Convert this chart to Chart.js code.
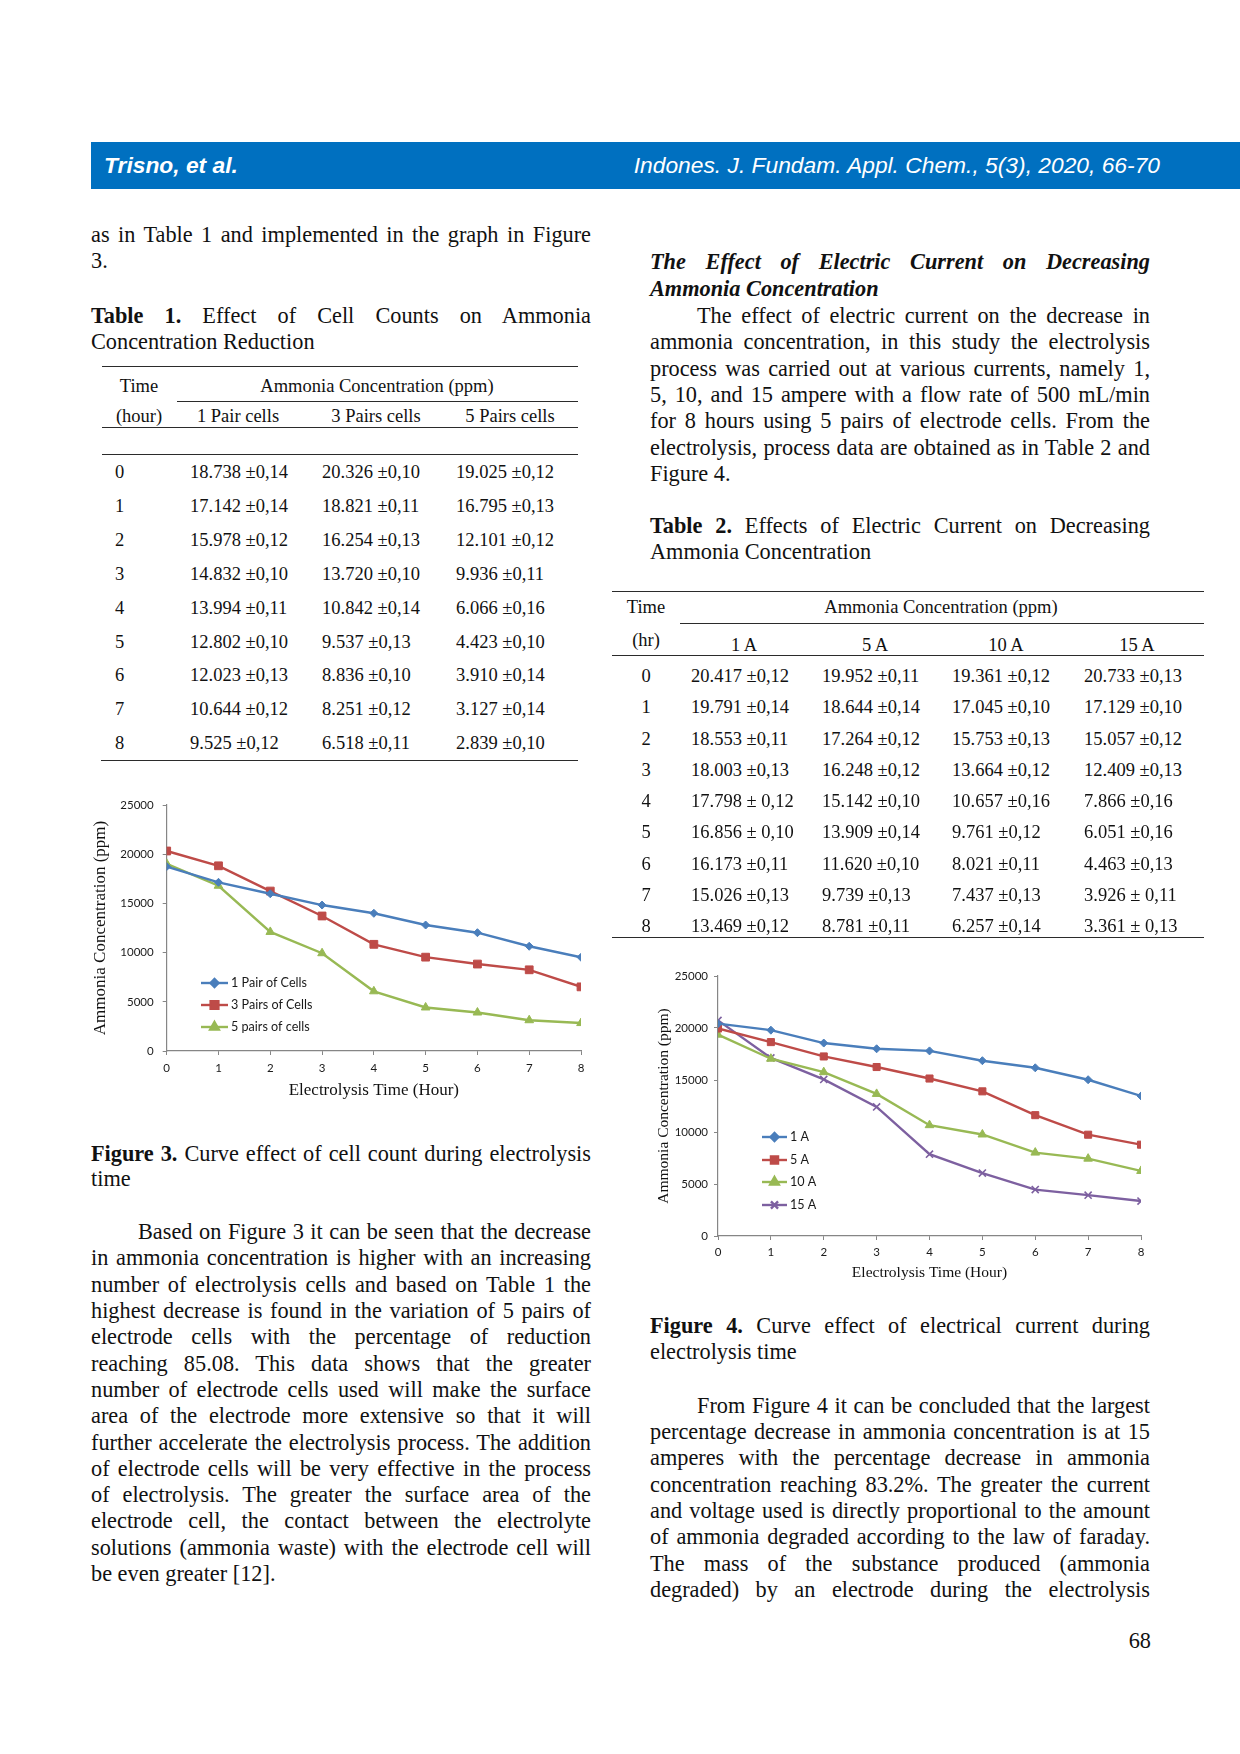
<!DOCTYPE html>
<html>
<head>
<meta charset="utf-8">
<script src="https://cdn.jsdelivr.net/npm/chart.js@4.4.1/dist/chart.umd.min.js"></script>
<style>
html, body { margin: 0; padding: 0; background: #fff; }
#page { position: relative; width: 1240px; height: 1754px; overflow: hidden; font-family: "Liberation Serif", "Times New Roman", serif; color: #111; }
.bar { position: absolute; left: 91px; top: 142px; width: 1149px; height: 47px; background: #0070c0; color: #fff; font-family: "Liberation Sans", Arial, sans-serif; font-size: 22.8px; line-height: 47px; font-style: italic; }
.bar .l { position: absolute; left: 13px; font-weight: bold; }
.bar .r { position: absolute; right: 80px; }
.ln { position: absolute; white-space: nowrap; font-size: 22.3px; line-height: 26px; }
.j { text-align: justify; text-align-last: justify; }
.bi { font-weight: bold; font-style: italic; }
.t { position: absolute; white-space: nowrap; font-size: 18.5px; line-height: 20px; }
.c { width: 240px; text-align: center; }
.rule { position: absolute; height: 0; border-top: 1.6px solid #2b2b2b; }
canvas { position: absolute; }
</style>
</head>
<body>
<div id="page">
  <div class="bar"><span class="l">Trisno, et al.</span><span class="r">Indones. J. Fundam. Appl. Chem., 5(3), 2020, 66-70</span></div>

  <!-- left column -->
  <div class="ln j" style="left:91px;top:222px;width:500px">as in Table 1 and implemented in the graph in Figure</div>
  <div class="ln" style="left:91px;top:248px">3.</div>
  <div class="ln j" style="left:91px;top:303px;width:500px"><b>Table 1.</b> Effect of Cell Counts on Ammonia</div>
  <div class="ln" style="left:91px;top:329px">Concentration Reduction</div>

  <div class="ln j" style="left:91px;top:1141px;width:500px"><b>Figure 3.</b> Curve effect of cell count during electrolysis</div>
  <div class="ln" style="left:91px;top:1166px">time</div>

  <div class="ln j" style="left:138px;top:1219px;width:453px">Based on Figure 3 it can be seen that the decrease</div>
  <div class="ln j" style="left:91px;top:1245px;width:500px">in ammonia concentration is higher with an increasing</div>
  <div class="ln j" style="left:91px;top:1272px;width:500px">number of electrolysis cells and based on Table 1 the</div>
  <div class="ln j" style="left:91px;top:1298px;width:500px">highest decrease is found in the variation of 5 pairs of</div>
  <div class="ln j" style="left:91px;top:1324px;width:500px">electrode cells with the percentage of reduction</div>
  <div class="ln j" style="left:91px;top:1351px;width:500px">reaching 85.08. This data shows that the greater</div>
  <div class="ln j" style="left:91px;top:1377px;width:500px">number of electrode cells used will make the surface</div>
  <div class="ln j" style="left:91px;top:1403px;width:500px">area of the electrode more extensive so that it will</div>
  <div class="ln j" style="left:91px;top:1430px;width:500px">further accelerate the electrolysis process. The addition</div>
  <div class="ln j" style="left:91px;top:1456px;width:500px">of electrode cells will be very effective in the process</div>
  <div class="ln j" style="left:91px;top:1482px;width:500px">of electrolysis. The greater the surface area of the</div>
  <div class="ln j" style="left:91px;top:1508px;width:500px">electrode cell, the contact between the electrolyte</div>
  <div class="ln j" style="left:91px;top:1535px;width:500px">solutions (ammonia waste) with the electrode cell will</div>
  <div class="ln" style="left:91px;top:1561px">be even greater [12].</div>

  <!-- right column -->
  <div class="ln j bi" style="left:650px;top:249px;width:500px">The Effect of Electric Current on Decreasing</div>
  <div class="ln bi" style="left:650px;top:276px">Ammonia Concentration</div>
  <div class="ln j" style="left:697px;top:303px;width:453px">The effect of electric current on the decrease in</div>
  <div class="ln j" style="left:650px;top:329px;width:500px">ammonia concentration, in this study the electrolysis</div>
  <div class="ln j" style="left:650px;top:356px;width:500px">process was carried out at various currents, namely 1,</div>
  <div class="ln j" style="left:650px;top:382px;width:500px">5, 10, and 15 ampere with a flow rate of 500 mL/min</div>
  <div class="ln j" style="left:650px;top:408px;width:500px">for 8 hours using 5 pairs of electrode cells. From the</div>
  <div class="ln j" style="left:650px;top:435px;width:500px">electrolysis, process data are obtained as in Table 2 and</div>
  <div class="ln" style="left:650px;top:461px">Figure 4.</div>
  <div class="ln j" style="left:650px;top:513px;width:500px"><b>Table 2.</b> Effects of Electric Current on Decreasing</div>
  <div class="ln" style="left:650px;top:539px">Ammonia Concentration</div>

  <div class="ln j" style="left:650px;top:1313px;width:500px"><b>Figure 4.</b> Curve effect of electrical current during</div>
  <div class="ln" style="left:650px;top:1339px">electrolysis time</div>

  <div class="ln j" style="left:697px;top:1393px;width:453px">From Figure 4 it can be concluded that the largest</div>
  <div class="ln j" style="left:650px;top:1419px;width:500px">percentage decrease in ammonia concentration is at 15</div>
  <div class="ln j" style="left:650px;top:1445px;width:500px">amperes with the percentage decrease in ammonia</div>
  <div class="ln j" style="left:650px;top:1472px;width:500px">concentration reaching 83.2%. The greater the current</div>
  <div class="ln j" style="left:650px;top:1498px;width:500px">and voltage used is directly proportional to the amount</div>
  <div class="ln j" style="left:650px;top:1524px;width:500px">of ammonia degraded according to the law of faraday.</div>
  <div class="ln j" style="left:650px;top:1551px;width:500px">The mass of the substance produced (ammonia</div>
  <div class="ln j" style="left:650px;top:1577px;width:500px">degraded) by an electrode during the electrolysis</div>

  <div class="ln" style="right:89px;top:1628px">68</div>

  <!-- table 1 frame -->
  <div class="rule" style="left:102px;top:366px;width:476px"></div>
  <div class="t c" style="left:19px;top:376px">Time</div>
  <div class="t c" style="left:257px;top:376px">Ammonia Concentration (ppm)</div>
  <div class="rule" style="left:177px;top:401px;width:401px"></div>
  <div class="t c" style="left:19px;top:406px">(hour)</div>
  <div class="t c" style="left:118px;top:406px">1 Pair cells</div>
  <div class="t c" style="left:256px;top:406px">3 Pairs cells</div>
  <div class="t c" style="left:390px;top:406px">5 Pairs cells</div>
  <div class="rule" style="left:102px;top:427px;width:476px"></div>
  <div class="rule" style="left:102px;top:454px;width:476px"></div>
  <div class="rule" style="left:101px;top:760px;width:477px"></div>

  <!-- table 2 frame -->
  <div class="rule" style="left:612px;top:591px;width:592px"></div>
  <div class="t c" style="left:526px;top:597px">Time</div>
  <div class="t c" style="left:821px;top:597px">Ammonia Concentration (ppm)</div>
  <div class="rule" style="left:680px;top:623px;width:524px"></div>
  <div class="t c" style="left:526px;top:630px">(hr)</div>
  <div class="t c" style="left:624px;top:635px">1 A</div>
  <div class="t c" style="left:755px;top:635px">5 A</div>
  <div class="t c" style="left:886px;top:635px">10 A</div>
  <div class="t c" style="left:1017px;top:635px">15 A</div>
  <div class="rule" style="left:612px;top:655px;width:592px"></div>
  <div class="rule" style="left:612px;top:937px;width:592px"></div>

  <canvas id="fig3" width="530" height="330" style="left:80px;top:780px"></canvas>
  <canvas id="fig4" width="530" height="345" style="left:640px;top:950px"></canvas>
</div>

<script>
// waktu elektrolisis (jam)
const hours = [0, 1, 2, 3, 4, 5, 6, 7, 8];

// Tabel 1 / Gambar 3 : jumlah pasang sel (ppm)
const pair1 = [18738, 17142, 15978, 14832, 13994, 12802, 12023, 10644, 9525];
const pair3 = [20326, 18821, 16254, 13720, 10842, 9537, 8836, 8251, 6518];
const pair5 = [19025, 16795, 12101, 9936, 6066, 4423, 3910, 3127, 2839];
const sdPair1 = ['±0,14', '±0,14', '±0,12', '±0,10', '±0,11', '±0,10', '±0,13', '±0,12', '±0,12'];
const sdPair3 = ['±0,10', '±0,11', '±0,13', '±0,10', '±0,14', '±0,13', '±0,10', '±0,12', '±0,11'];
const sdPair5 = ['±0,12', '±0,13', '±0,12', '±0,11', '±0,16', '±0,10', '±0,14', '±0,14', '±0,10'];

// Tabel 2 / Gambar 4 : arus listrik (ppm)
const amp1 = [20417, 19791, 18553, 18003, 17798, 16856, 16173, 15026, 13469];
const amp5 = [19952, 18644, 17264, 16248, 15142, 13909, 11620, 9739, 8781];
const amp10 = [19361, 17045, 15753, 13664, 10657, 9761, 8021, 7437, 6257];
const amp15 = [20733, 17129, 15057, 12409, 7866, 6051, 4463, 3926, 3361];
const sdAmp1 = ['±0,12', '±0,14', '±0,11', '±0,13', '± 0,12', '± 0,10', '±0,11', '±0,13', '±0,12'];
const sdAmp5 = ['±0,11', '±0,14', '±0,12', '±0,12', '±0,10', '±0,14', '±0,10', '±0,13', '±0,11'];
const sdAmp10 = ['±0,12', '±0,10', '±0,13', '±0,12', '±0,16', '±0,12', '±0,11', '±0,13', '±0,14'];
const sdAmp15 = ['±0,13', '±0,10', '±0,12', '±0,13', '±0,16', '±0,16', '±0,13', '± 0,11', '± 0,13'];

const labelsCells = ['1 Pair of Cells', '3 Pairs of Cells', '5 pairs of cells'];
const labelsAmp = ['1 A', '5 A', '10 A', '15 A'];

const page = document.getElementById('page');
const fmt = v => (v / 1000).toFixed(3);

function cell(text, left, top, center) {
    const d = document.createElement('div');
    d.className = center ? 't c' : 't';
    d.style.left = left + 'px';
    d.style.top = top + 'px';
    d.textContent = text;
    page.appendChild(d);
}

// isi tabel 1
hours.forEach((h, i) => {
    const top = 462 + i * 33.9;
    cell(String(h), 115, top, false);
    cell(fmt(pair1[i]) + ' ' + sdPair1[i], 190, top, false);
    cell(fmt(pair3[i]) + ' ' + sdPair3[i], 322, top, false);
    cell(fmt(pair5[i]) + ' ' + sdPair5[i], 456, top, false);
});

// isi tabel 2
hours.forEach((h, i) => {
    const top = 666 + i * 31.25;
    cell(String(h), 526, top, true);
    cell(fmt(amp1[i]) + ' ' + sdAmp1[i], 691, top, false);
    cell(fmt(amp5[i]) + ' ' + sdAmp5[i], 822, top, false);
    cell(fmt(amp10[i]) + ' ' + sdAmp10[i], 952, top, false);
    cell(fmt(amp15[i]) + ' ' + sdAmp15[i], 1084, top, false);
});

Chart.defaults.font.family = 'Lato';
Chart.defaults.color = '#1a1a1a';

const BLUE = '#4a7ebb', RED = '#be4b48', GREEN = '#98b954', PURPLE = '#7d60a0';

// legenda di dalam area grafik, seperti Excel
function insideLegend(x1, x2, ys) {
    return {
        id: 'insideLegend',
        afterDraw(chart) {
            const ctx = chart.ctx;
            chart.data.datasets.forEach((ds, i) => {
                const y = ys[i];
                ctx.save();
                ctx.strokeStyle = ds.borderColor;
                ctx.lineWidth = ds.borderWidth;
                ctx.beginPath();
                ctx.moveTo(x1, y);
                ctx.lineTo(x2, y);
                ctx.stroke();
                ctx.fillStyle = ds.pointBackgroundColor;
                ctx.strokeStyle = ds.borderColor;
                Chart.helpers.drawPoint(ctx, {
                    pointStyle: ds.pointStyle, radius: ds.pointRadius, rotation: 0, borderWidth: ds.pointBorderWidth
                }, (x1 + x2) / 2, y);
                ctx.fillStyle = '#1a1a1a';
                ctx.font = '12.6px Lato';
                ctx.textBaseline = 'middle';
                ctx.fillText(ds.label, x2 + 3, y);
                ctx.restore();
            });
        }
    };
}

function serie(label, values, color, style, radius) {
    return {
        label: label,
        data: hours.map((h, i) => ({ x: h, y: values[i] })),
        borderColor: color,
        backgroundColor: color,
        pointBackgroundColor: color,
        pointBorderColor: color,
        borderWidth: 2.4,
        pointStyle: style,
        pointRadius: radius,
        pointBorderWidth: style === 'crossRot' ? 1.6 : 1,
        tension: 0
    };
}

function makeChart(id, datasets, g) {
    new Chart(document.getElementById(id), {
        type: 'line',
        data: { datasets: datasets },
        options: {
            responsive: false,
            animation: false,
            layout: { padding: { left: g.padLeft, right: 29, top: g.padTop, bottom: g.padBottom } },
            plugins: { legend: { display: false }, tooltip: { enabled: false } },
            scales: {
                x: {
                    type: 'linear', min: 0, max: 8,
                    ticks: { stepSize: 1, padding: g.xPad, font: { size: 11.5 } },
                    grid: { drawOnChartArea: false, tickLength: 4, color: '#868686' },
                    border: { color: '#868686', width: 1.2 },
                    title: { display: true, text: 'Electrolysis Time (Hour)', padding: 0, color: '#111',
                             font: { family: 'Liberation Serif', size: g.titleSize } },
                    afterFit: s => { s.height = g.xHeight; }
                },
                y: {
                    min: 0, max: 25000,
                    ticks: { stepSize: 5000, padding: g.yPad, font: { size: 11.5 }, callback: v => String(v) },
                    grid: { drawOnChartArea: false, tickLength: 4, color: '#868686' },
                    border: { color: '#868686', width: 1.2 },
                    title: { display: true, text: 'Ammonia Concentration (ppm)', padding: 0, color: '#111',
                             font: { family: 'Liberation Serif', size: g.titleSize } },
                    afterFit: s => { s.width = g.yWidth; }
                }
            }
        },
        plugins: [insideLegend(g.legX1, g.legX2, g.legY)]
    });
}

makeChart('fig3', [
    serie(labelsCells[0], pair1, BLUE, 'rectRot', 4),
    serie(labelsCells[1], pair3, RED, 'rect', 5.5),
    serie(labelsCells[2], pair5, GREEN, 'triangle', 5)
], {
    padLeft: 10.8, padTop: 25, padBottom: 9.1, yWidth: 75.9, xHeight: 49.9,
    xPad: 6, yPad: 9, titleSize: 17,
    legX1: 121, legX2: 148, legY: [203, 225, 247]
});

makeChart('fig4', [
    serie(labelsAmp[0], amp1, BLUE, 'rectRot', 4),
    serie(labelsAmp[1], amp5, RED, 'rect', 5),
    serie(labelsAmp[2], amp10, GREEN, 'triangle', 5),
    serie(labelsAmp[3], amp15, PURPLE, 'crossRot', 5)
], {
    padLeft: 14.7, padTop: 26, padBottom: 12.7, yWidth: 63.3, xHeight: 46.3,
    xPad: 5, yPad: 6, titleSize: 15.5,
    legX1: 122, legX2: 147, legY: [187, 210, 232, 255]
});
</script>
</body>
</html>
